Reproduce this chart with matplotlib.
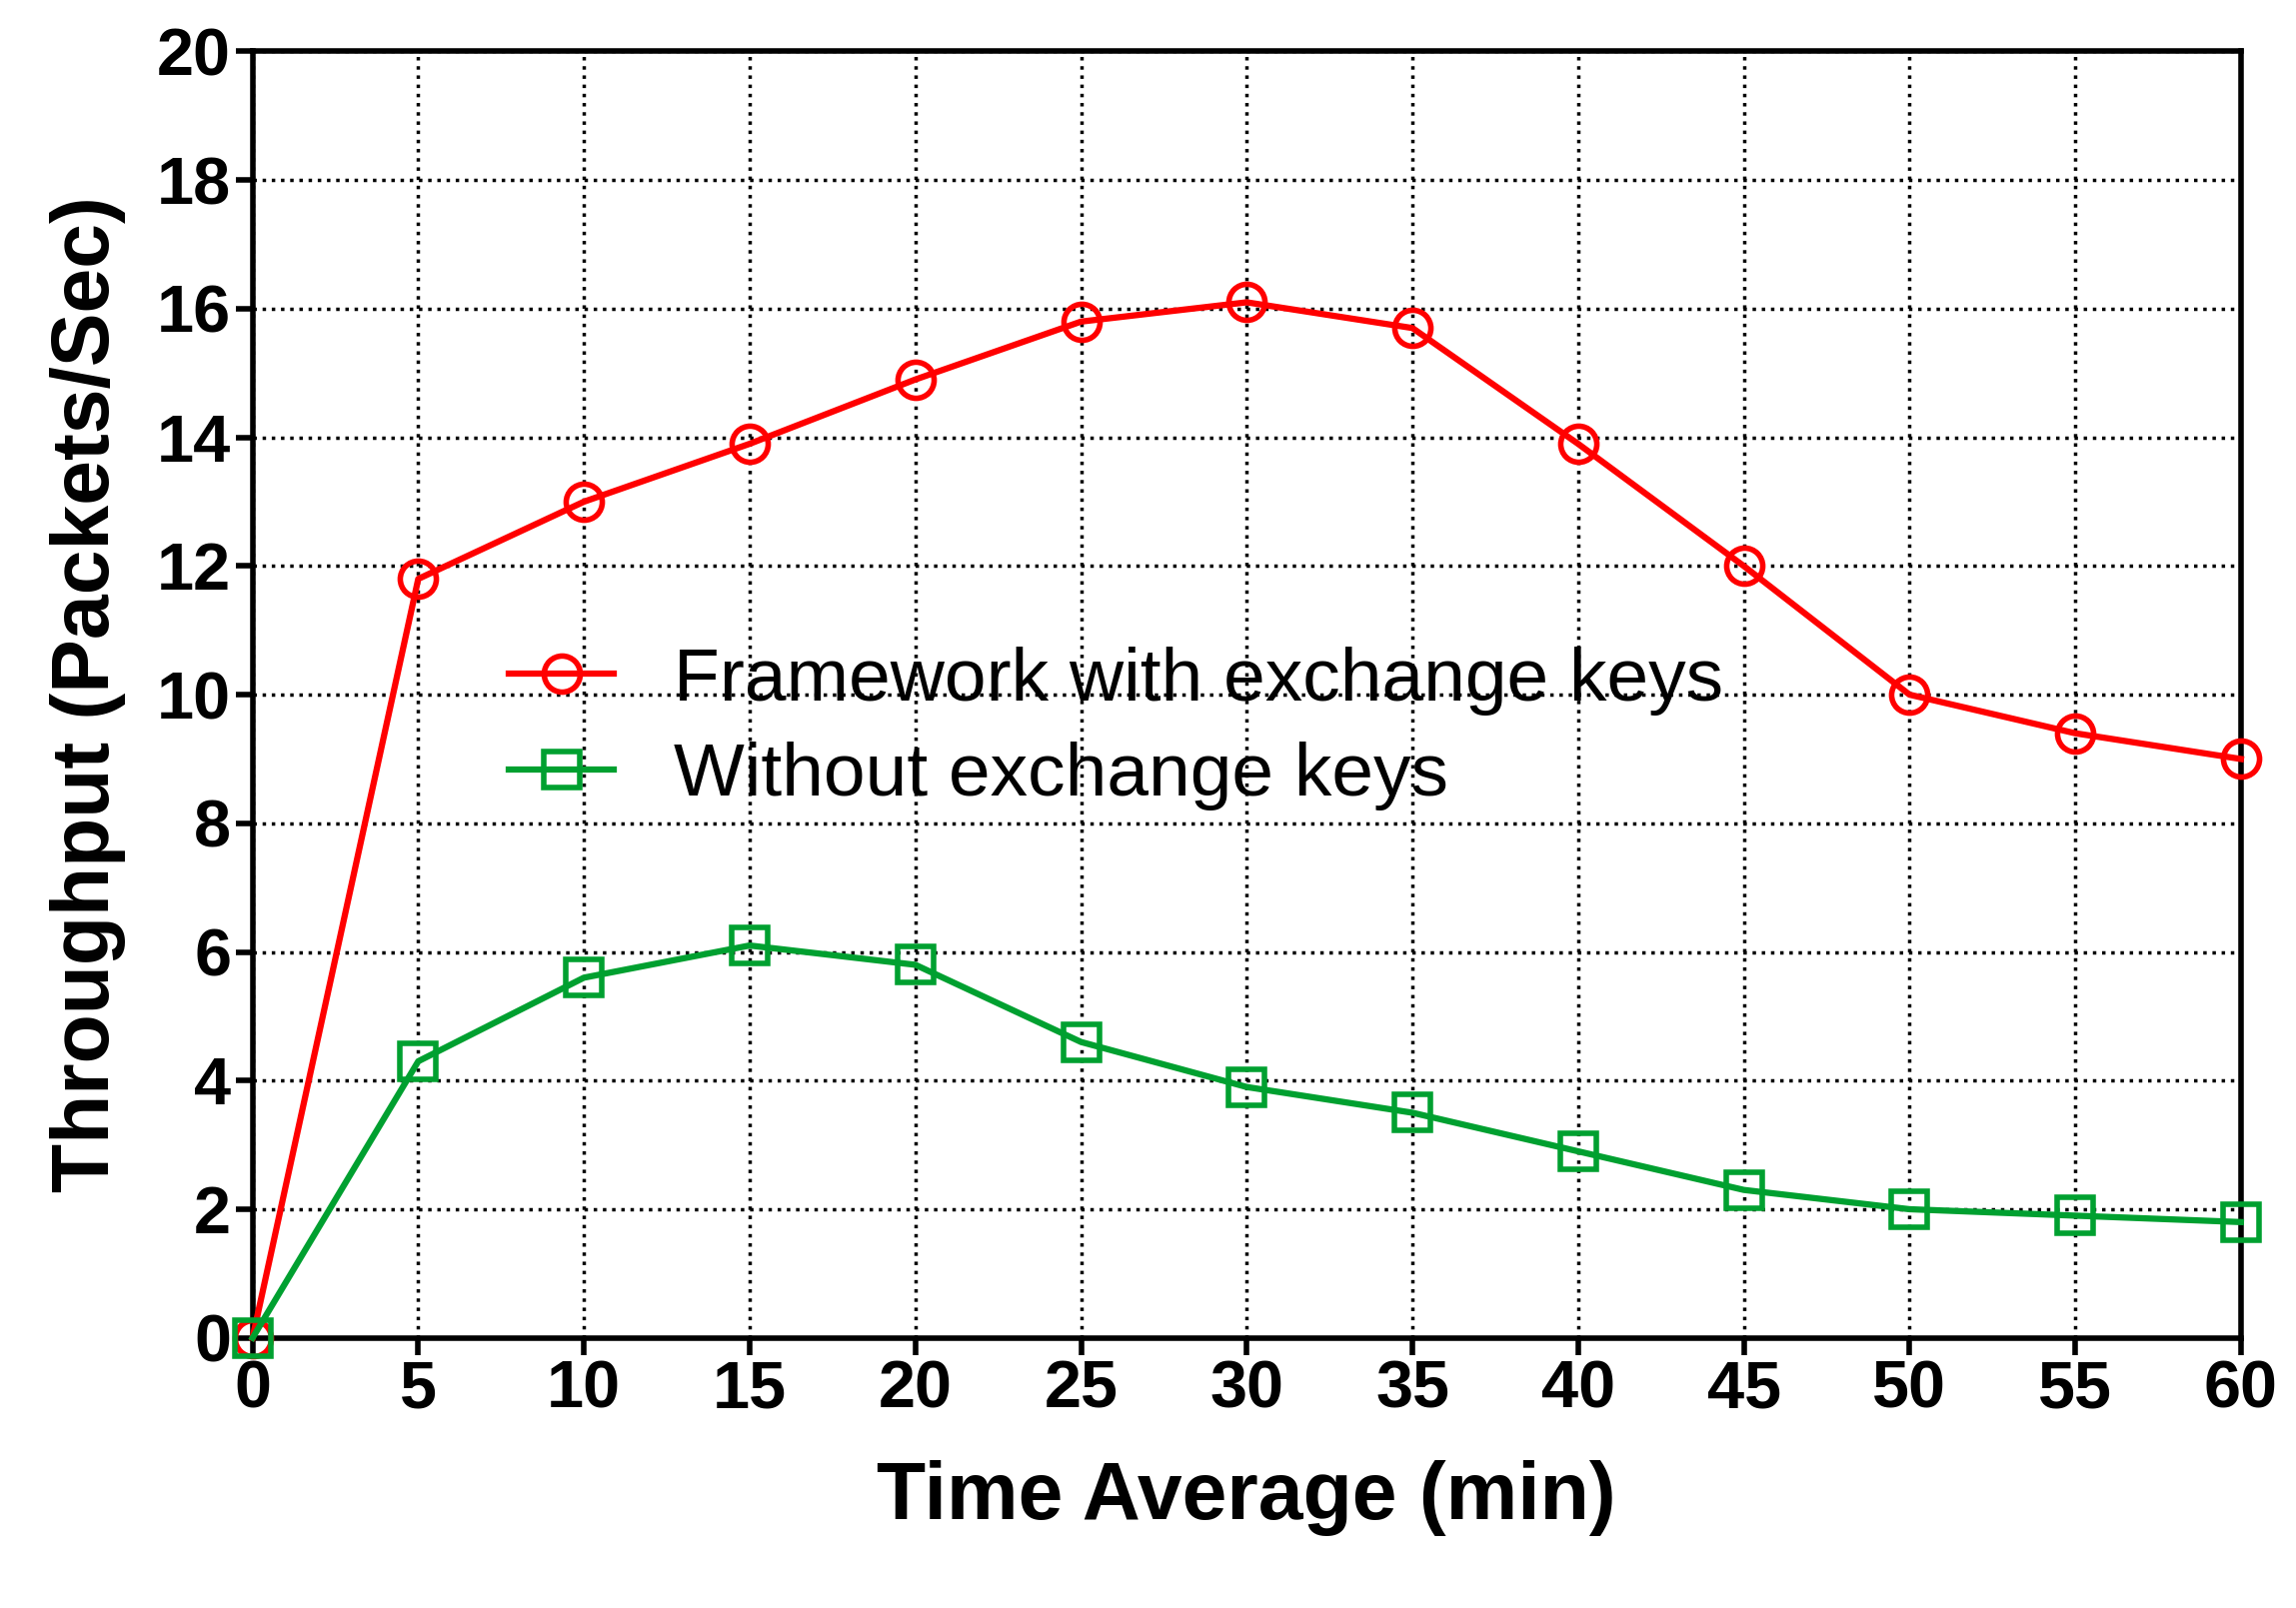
import matplotlib.pyplot as plt

# Data
time_min = [0, 5, 10, 15, 20, 25, 30, 35, 40, 45, 50, 55, 60]
with_keys = [0, 11.8, 13.0, 13.9, 14.9, 15.8, 16.1, 15.7, 13.9, 12.0, 10.0, 9.4, 9.0]
without_keys = [0, 4.3, 5.6, 6.1, 5.8, 4.6, 3.9, 3.5, 2.9, 2.3, 2.0, 1.9, 1.8]

plt.rcParams['font.family'] = ['Liberation Sans', 'DejaVu Sans']

fig = plt.figure(figsize=(22.97, 16.09), dpi=100)
ax = fig.add_axes([0.110, 0.168, 0.866, 0.800])

ax.plot(time_min, with_keys, color='#ff0000', lw=4.5, marker='o', ms=26,
        mfc='none', mew=4, label='Framework with exchange keys', clip_on=False, zorder=3)
ax.plot(time_min, without_keys, color='#00a030', lw=4.5, marker='s', ms=26,
        mfc='none', mew=4, label='Without exchange keys', clip_on=False, zorder=3)

ax.set_xlim(0, 60)
ax.set_ylim(0, 20)
ax.set_xticks(range(0, 61, 5))
ax.set_yticks(range(0, 21, 2))
ax.grid(True, color='black', linestyle=':', lw=2.5)
for s in ax.spines.values():
    s.set_linewidth(4)
ax.tick_params(labelsize=48, width=4, length=12)
for lab in ax.get_xticklabels() + ax.get_yticklabels():
    lab.set_fontweight('bold')

ax.set_xlabel('Time Average (min)', fontsize=58, fontweight='bold', labelpad=28)
ax.set_ylabel('Throughput (Packets/Sec)', fontsize=58, fontweight='bold', labelpad=22)

ax.legend(loc='upper left', bbox_to_anchor=(0.095, 0.59), frameon=False,
          fontsize=54, handlelength=1.4, handletextpad=0.8, labelspacing=0.35)

fig.savefig('out.png', dpi=100)
